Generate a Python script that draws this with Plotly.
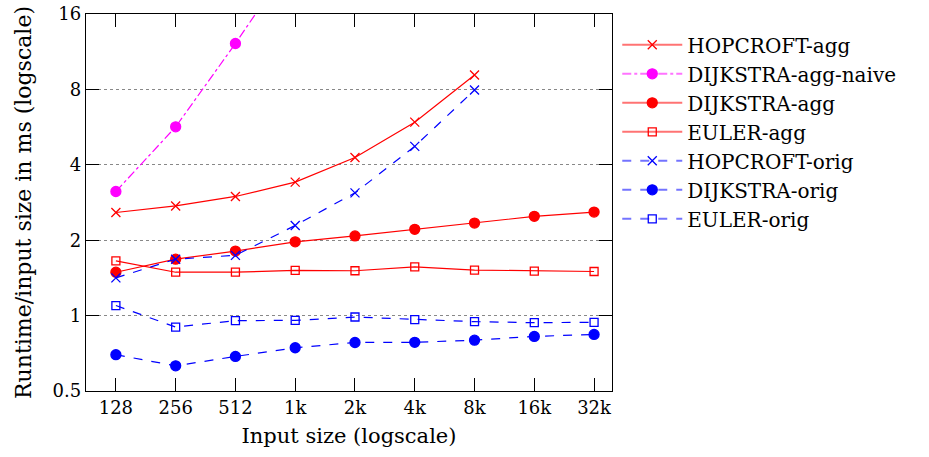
import plotly.graph_objects as go
import math

sizes = [128, 256, 512, 1024, 2048, 4096, 8192, 16384, 32768]
size_labels = ["128", "256", "512", "1k", "2k", "4k", "8k", "16k", "32k"]

hopcroft_agg = [2.58, 2.74, 2.99, 3.41, 4.28, 5.92, 9.13]
dijkstra_agg_naive = [3.13, 5.67, 12.2, 27.4]
dijkstra_agg = [1.49, 1.68, 1.81, 1.97, 2.08, 2.21, 2.34, 2.49, 2.59]
euler_agg = [1.655, 1.49, 1.49, 1.515, 1.51, 1.566, 1.52, 1.505, 1.50]
hopcroft_orig = [1.415, 1.68, 1.74, 2.29, 3.09, 4.74, 7.95]
dijkstra_orig = [0.698, 0.63, 0.687, 0.744, 0.781, 0.782, 0.798, 0.826, 0.841]
euler_orig = [1.097, 0.90, 0.955, 0.957, 0.987, 0.964, 0.946, 0.937, 0.94]

y_ticks = [0.5, 1, 2, 4, 8, 16]
y_tick_labels = ["0.5", "1", "2", "4", "8", "16"]

RED = "#ff0000"
BLUE = "#0000ff"
MAG = "#ff00ff"
RED_L = "rgba(255,0,0,0.55)"
BLUE_L = "rgba(0,0,255,0.55)"
MAG_L = "rgba(255,0,255,0.55)"
FONT = "DejaVu Serif"

series = [
    ("HOPCROFT-agg", hopcroft_agg, RED, RED_L, "solid", "x-thin", 9),
    ("DIJKSTRA-agg-naive", dijkstra_agg_naive, MAG, MAG_L, "dashdot", "circle", 10),
    ("DIJKSTRA-agg", dijkstra_agg, RED, RED_L, "solid", "circle", 10),
    ("EULER-agg", euler_agg, RED, RED_L, "solid", "square-open", 8),
    ("HOPCROFT-orig", hopcroft_orig, BLUE, BLUE_L, "dash", "x-thin", 9),
    ("DIJKSTRA-orig", dijkstra_orig, BLUE, BLUE_L, "dash", "circle", 10),
    ("EULER-orig", euler_orig, BLUE, BLUE_L, "dash", "square-open", 8),
]

fig = go.Figure()
for name, vals, col, col_l, dash, sym, sz in series:
    fig.add_trace(go.Scatter(
        x=sizes[:len(vals)], y=vals, name=name, mode="lines+markers",
        line=dict(color=col, width=1.2, dash=dash),
        marker=dict(symbol=sym, size=sz, color=col,
                    line=dict(color=col, width=1.3)),
        showlegend=False,
    ))
for name, vals, col, col_l, dash, sym, sz in series:
    fig.add_trace(go.Scatter(
        x=[None], y=[None], name=name, mode="lines+markers",
        line=dict(color=col_l, width=2, dash=dash),
        marker=dict(symbol=sym, size=sz, color=col,
                    line=dict(color=col, width=1.3)),
        showlegend=True,
    ))

fig.update_layout(
    width=929, height=457,
    margin=dict(l=86, r=317, t=14, b=66),
    paper_bgcolor="white", plot_bgcolor="white",
    font=dict(family=FONT, size=20, color="black"),
    showlegend=True,
    legend=dict(x=1.01, xanchor="left", y=0.97, yanchor="top",
                itemwidth=60, tracegroupgap=0,
                font=dict(family=FONT, size=20),
                bgcolor="rgba(0,0,0,0)"),
    xaxis=dict(
        type="log", automargin=False,
        range=[math.log10(2 ** 6.5), math.log10(2 ** 15.3)],
        tickvals=sizes, ticktext=size_labels,
        ticks="inside", ticklen=13, tickcolor="black", tickwidth=1,
        showline=True, linecolor="black", linewidth=1.4, mirror="ticks",
        showgrid=False, zeroline=False,
        tickfont=dict(family=FONT, size=18),
        title=dict(text="Input size (logscale)", standoff=11,
                   font=dict(family=FONT, size=21)),
    ),
    yaxis=dict(
        type="log", automargin=False,
        range=[math.log10(0.5), math.log10(16)],
        tickvals=y_ticks, ticktext=y_tick_labels,
        ticks="inside", ticklen=13, tickcolor="black", tickwidth=1,
        showline=True, linecolor="black", linewidth=1.4, mirror="ticks",
        showgrid=True, gridcolor="#888888", griddash="dot", gridwidth=1,
        zeroline=False, ticklabeloverflow="allow",
        tickfont=dict(family=FONT, size=18),
        title=dict(text="Runtime/input size in ms (logscale)", standoff=14,
                   font=dict(family=FONT, size=22)),
    ),
)

fig.write_html("out.html", config={"displayModeBar": False},
               post_script="document.body.style.margin='0';")
